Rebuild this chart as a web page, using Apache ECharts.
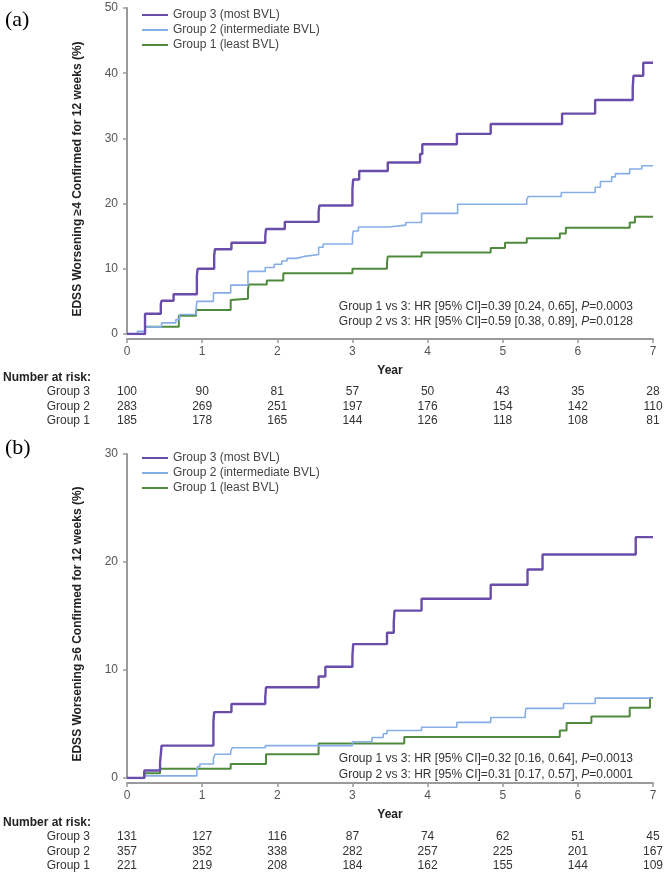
<!DOCTYPE html>
<html>
<head>
<meta charset="utf-8">
<script src="https://cdn.jsdelivr.net/npm/echarts@6/dist/echarts.min.js"></script>
<style>
  html, body { margin: 0; padding: 0; background: #fff; }
  #main { width: 667px; height: 877px; }
</style>
</head>
<body>
<div id="main"></div>
<script>
// time points of the risk table
var years = [0, 1, 2, 3, 4, 5, 6, 7];

// panel (a): EDSS worsening >=4, [year, cumulative %]
var g3A = [[0, 0], [0.24, 3.1], [0.45, 4.6], [0.46, 5.1], [0.62, 6.1], [0.93, 9.0], [0.94, 10.0], [1.16, 12.0], [1.17, 13.0], [1.39, 14.0], [1.84, 15.0], [1.85, 16.1], [2.10, 17.2], [2.55, 18.8], [2.56, 19.7], [3.0, 22.3], [3.01, 23.7], [3.09, 25.0], [3.47, 26.3], [3.90, 27.6], [3.93, 29.1], [4.39, 30.7], [4.84, 32.2], [5.79, 33.8], [6.23, 35.9], [6.73, 37.7], [6.74, 39.6], [6.87, 41.6], [7.0, 41.6]];
var g2A = [[0, 0], [0.14, 0.4], [0.24, 1.1], [0.46, 1.7], [0.65, 2.2], [0.70, 3.0], [0.92, 3.7], [0.93, 5.0], [1.15, 6.3], [1.38, 7.5], [1.61, 9.6], [1.84, 10.2], [1.96, 10.7], [2.06, 11.2], [2.13, 11.6], [2.25, 11.9], [2.36, 12.2], [2.55, 13.3], [2.61, 13.8], [3.0, 14.8], [3.01, 15.8], [3.08, 16.4], [3.48, 16.7], [3.71, 17.1], [3.92, 18.5], [4.40, 19.9], [5.32, 20.6], [5.34, 21.1], [5.78, 21.7], [6.23, 22.5], [6.30, 23.4], [6.45, 24.1], [6.50, 24.6], [6.69, 25.3], [6.85, 25.8], [7.0, 25.8]];
var g1A = [[0, 0], [0.24, 1.1], [0.69, 2.8], [0.92, 3.7], [1.38, 5.2], [1.39, 5.4], [1.61, 6.7], [1.62, 7.6], [1.86, 8.2], [2.08, 9.3], [3.0, 10.0], [3.46, 10.9], [3.47, 11.9], [3.92, 12.5], [4.84, 13.2], [5.03, 14.0], [5.32, 14.7], [5.76, 15.4], [5.84, 16.3], [6.69, 17.1], [6.76, 18.0], [7.0, 18.0]];

// panel (b): EDSS worsening >=6
var g3B = [[0, 0], [0.23, 0.7], [0.44, 1.45], [0.45, 2.2], [0.46, 3.0], [1.15, 5.2], [1.16, 6.1], [1.39, 6.85], [1.84, 7.5], [1.85, 8.4], [2.55, 9.4], [2.64, 10.3], [3.0, 11.3], [3.01, 12.4], [3.46, 13.45], [3.55, 14.4], [3.56, 15.5], [3.92, 16.6], [4.84, 17.9], [5.33, 19.3], [5.53, 20.7], [6.77, 22.3], [7.0, 22.3]];
var g2B = [[0, 0], [0.23, 0.2], [0.93, 0.75], [0.94, 1.05], [0.97, 1.3], [1.15, 1.8], [1.17, 2.2], [1.38, 2.5], [1.40, 2.8], [1.84, 3.0], [3.0, 3.35], [3.26, 3.75], [3.41, 4.1], [3.46, 4.4], [3.92, 4.7], [4.39, 5.15], [4.84, 5.6], [5.30, 6.0], [5.31, 6.45], [5.81, 6.9], [6.23, 7.4], [7.0, 7.4]];
var g1B = [[0, 0], [0.23, 0.45], [0.44, 0.85], [1.38, 1.3], [1.85, 2.2], [2.55, 3.2], [3.69, 3.8], [5.76, 4.4], [5.85, 5.1], [6.18, 5.7], [6.69, 6.5], [6.96, 7.4], [7.0, 7.4]];

// number at risk
var riskA3 = [100, 90, 81, 57, 50, 43, 35, 28];
var riskA2 = [283, 269, 251, 197, 176, 154, 142, 110];
var riskA1 = [185, 178, 165, 144, 126, 118, 108, 81];
var riskB3 = [131, 127, 116, 87, 74, 62, 51, 45];
var riskB2 = [357, 352, 338, 282, 257, 225, 201, 167];
var riskB1 = [221, 219, 208, 184, 162, 155, 144, 109];

var names = ["Group 3 (most BVL)", "Group 2 (intermediate BVL)", "Group 1 (least BVL)"];
var colors = ["#6a4caa", "#86aee6", "#4f8a3c"];
var font = "'Liberation Sans', Arial, sans-serif";

var myChart = echarts.init(document.getElementById("main"));

function xAxisCfg(gi) {
  return {
    type: "value",
    gridIndex: gi,
    min: 0,
    max: 7,
    interval: 1,
    offset: 5,
    name: "Year",
    nameLocation: "middle",
    nameGap: 26,
    nameTextStyle: { fontFamily: font, fontSize: 12, fontWeight: "bold", color: "#222" },
    axisLine: { show: true, onZero: false, lineStyle: { color: "#9a9a9a", width: 2 } },
    axisTick: { show: true, length: 4, lineStyle: { color: "#9a9a9a", width: 1.5 } },
    axisLabel: { margin: 7, fontFamily: font, fontSize: 12, color: "#555" },
    splitLine: { show: false },
  };
}

function yAxisCfg(gi, max, title) {
  return {
    type: "value",
    gridIndex: gi,
    min: 0,
    max: max,
    interval: 10,
    offset: 3,
    name: title,
    nameLocation: "middle",
    nameRotate: 90,
    nameGap: 40,
    nameMoveOverlap: false,
    nameTextStyle: { fontFamily: font, fontSize: 12, fontWeight: "bold", color: "#222", padding: [0, 16, 0, 0] },
    axisLine: { show: true, lineStyle: { color: "#9a9a9a", width: 2 } },
    axisTick: { show: true, length: 4, lineStyle: { color: "#9a9a9a", width: 1.5 } },
    axisLabel: { margin: 6, fontFamily: font, fontSize: 12, color: "#555" },
    splitLine: { show: false },
  };
}

function stepSeries(name, data, gi, color, width) {
  return {
    name: name,
    type: "line",
    step: "end",
    xAxisIndex: gi,
    yAxisIndex: gi,
    data: data,
    symbol: "none",
    lineStyle: { color: color, width: width },
    itemStyle: { color: color },
    animation: false,
  };
}

function legendCfg(top) {
  return {
    orient: "vertical",
    left: 137,
    top: top,
    icon: "rect",
    itemWidth: 26,
    itemHeight: 2,
    itemGap: 1,
    data: names,
    textStyle: { fontFamily: font, fontSize: 12, color: "#444", lineHeight: 14 },
  };
}

var option = {
  animation: false,
  grid: [
    { left: 127, right: 14, top: 8, height: 326 },
    { left: 127, right: 14, top: 454, height: 324 },
  ],
  xAxis: [xAxisCfg(0), xAxisCfg(1)],
  yAxis: [
    yAxisCfg(0, 50, "EDSS Worsening \u22654 Confirmed for 12 weeks (%)"),
    yAxisCfg(1, 30, "EDSS Worsening \u22656 Confirmed for 12 weeks (%)"),
  ],
  legend: [legendCfg(3), legendCfg(446)],
  series: [
    stepSeries(names[2], g1A, 0, colors[2], 2),
    stepSeries(names[1], g2A, 0, colors[1], 1.6),
    stepSeries(names[0], g3A, 0, colors[0], 2.4),
    stepSeries(names[2], g1B, 1, colors[2], 2),
    stepSeries(names[1], g2B, 1, colors[1], 1.6),
    stepSeries(names[0], g3B, 1, colors[0], 2.4),
  ],
};
myChart.setOption(option);

// texts: panel letters, HR notes and the number-at-risk tables
var graphics = [];
function txt(x, y, s, align, extra) {
  var style = { text: s, x: x, y: y, align: align, verticalAlign: "middle", font: "12px " + font, fill: "#333" };
  for (var k in extra) style[k] = extra[k];
  graphics.push({ type: "text", style: style, silent: true });
}

txt(5, 20, "(a)", "left", { font: "22px 'Liberation Serif', 'Times New Roman', serif", fill: "#000" });
txt(5, 448, "(b)", "left", { font: "22px 'Liberation Serif', 'Times New Roman', serif", fill: "#000" });

function hrNote(y, s, p) {
  graphics.push({
    type: "text",
    silent: true,
    style: {
      x: 633,
      y: y,
      align: "right",
      verticalAlign: "middle",
      text: s + "{i|P}=" + p,
      font: "12px " + font,
      fill: "#333",
      rich: { i: { fontStyle: "italic", fontFamily: font, fontSize: 12, fill: "#333" } },
    },
  });
}
hrNote(307, "Group 1 vs 3: HR [95% CI]=0.39 [0.24, 0.65], ", "0.0003");
hrNote(322, "Group 2 vs 3: HR [95% CI]=0.59 [0.38, 0.89], ", "0.0128");
hrNote(759, "Group 1 vs 3: HR [95% CI]=0.32 [0.16, 0.64], ", "0.0013");
hrNote(775, "Group 2 vs 3: HR [95% CI]=0.31 [0.17, 0.57], ", "0.0001");

function riskTable(gi, top, rows) {
  txt(3, top, "Number at risk:", "left", { font: "bold 12px " + font, fill: "#222" });
  var labels = ["Group 3", "Group 2", "Group 1"];
  for (var r = 0; r < rows.length; r++) {
    var y = top + 14 + r * 14.5;
    txt(90, y, labels[r], "right", {});
    for (var i = 0; i < years.length; i++) {
      var px = myChart.convertToPixel({ xAxisIndex: gi }, years[i]);
      txt(px, y, String(rows[r][i]), "center", {});
    }
  }
}
riskTable(0, 378, [riskA3, riskA2, riskA1]);
riskTable(1, 823, [riskB3, riskB2, riskB1]);

myChart.setOption({ graphic: graphics });
</script>
</body>
</html>
